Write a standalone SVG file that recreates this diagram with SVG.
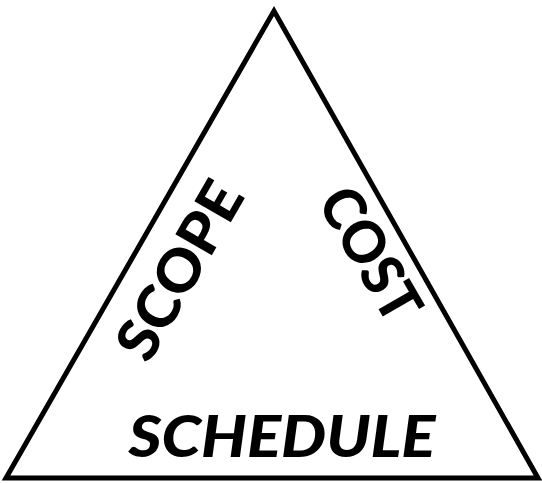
<svg xmlns="http://www.w3.org/2000/svg" width="542" height="483" viewBox="0 0 542 483">
<style>
.lbl{font-family:Lato,"Liberation Sans",sans-serif;font-weight:900;font-size:58px;fill:#000;text-anchor:middle}
</style>
<rect width="542" height="483" fill="#fff"/>
<g id="triangle">
<polygon points="274,11 6,478 538,478" fill="none" stroke="#000" stroke-width="5" stroke-linejoin="miter"/>
</g>
<g id="scope" transform="translate(179,270) rotate(-60)">
<text class="lbl" x="0" y="21" textLength="195" lengthAdjust="spacingAndGlyphs">SCOPE</text>
</g>
<g id="cost" transform="translate(371,254) rotate(60)">
<text class="lbl" x="0" y="21" textLength="145" lengthAdjust="spacingAndGlyphs">COST</text>
</g>
<g id="schedule">
<text class="lbl" x="282" y="457" font-style="italic" textLength="307" lengthAdjust="spacingAndGlyphs">SCHEDULE</text>
</g>
</svg>
